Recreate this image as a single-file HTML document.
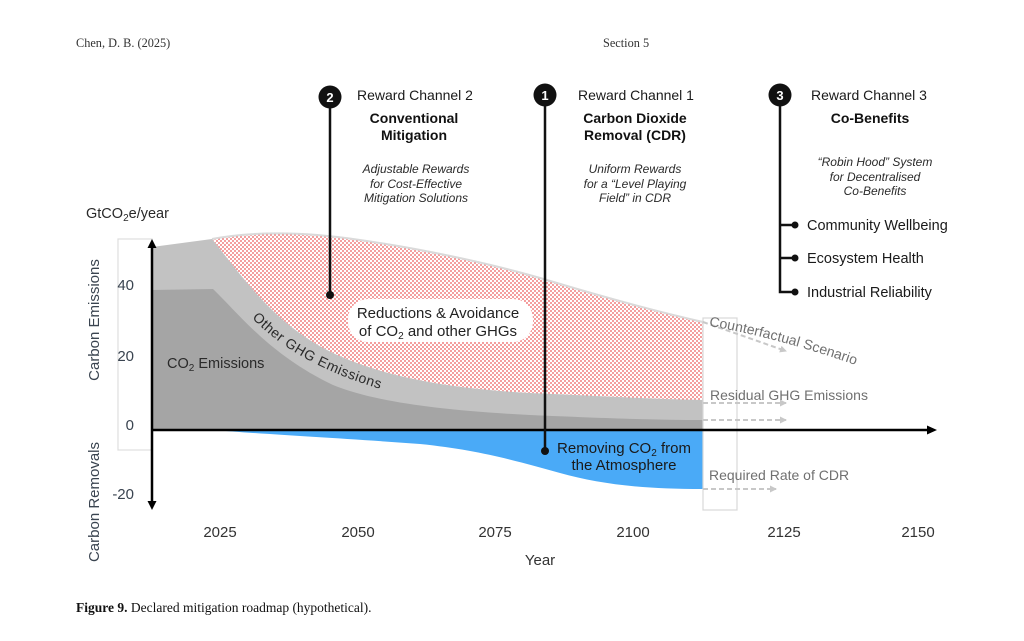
<!DOCTYPE html>
<html>
<head>
<meta charset="utf-8">
<style>
  html,body{margin:0;padding:0;background:#fff;}
  svg{display:block;}
</style>
</head>
<body>
<svg width="1024" height="641" viewBox="0 0 1024 641" xmlns="http://www.w3.org/2000/svg">
  <defs>
    <pattern id="dots" x="0" y="0" width="4" height="4" patternUnits="userSpaceOnUse">
      <rect width="4" height="4" fill="#ffffff"/>
      <circle cx="1" cy="1" r="0.9" fill="#ec5a5a"/>
      <circle cx="3" cy="3" r="0.9" fill="#ec5a5a"/>
    </pattern>
    <marker id="ga" markerWidth="8" markerHeight="8" refX="6" refY="4" orient="auto" markerUnits="userSpaceOnUse">
      <path d="M0,0.5 L7,4 L0,7.5 Z" fill="#c8c8c8"/>
    </marker>
  </defs>

  <!-- header -->
  <text x="76" y="47" font-family="Liberation Serif, serif" font-size="12.3" fill="#333">Chen, D. B. (2025)</text>
  <text x="603" y="47" font-family="Liberation Serif, serif" font-size="12.3" fill="#333">Section 5</text>

  <!-- caption -->
  <text x="76" y="612" font-family="Liberation Serif, serif" font-size="13.5" fill="#111"><tspan font-weight="bold">Figure 9.</tspan> Declared mitigation roadmap (hypothetical).</text>

  <!-- box outline left -->
  <rect x="118" y="239" width="34" height="211" fill="none" stroke="#dedede" stroke-width="1.2"/>

  <!-- red dotted region -->
  <path d="M212,239 C250,232 300,231 360,240 C430,250 500,266 547,280 C600,296 650,310 703,322 L703,400 C650,399 600,396 530,393 C440,388 380,375 333,353 C275,325 245,280 212,239 Z" fill="url(#dots)"/>
  <!-- counterfactual top line -->
  <path d="M212,239 C250,232 300,231 360,240 C430,250 500,266 547,280 C600,296 650,310 703,322" fill="none" stroke="#dadada" stroke-width="2"/>

  <!-- light gray (other GHG) -->
  <path d="M152,430 L152,247 L212,239 C245,280 275,325 333,353 C380,375 440,388 530,393 C600,396 650,399 703,400 L703,430 Z" fill="#c2c2c2"/>
  <!-- dark gray (CO2) -->
  <path d="M152,430 L152,290 L213,289 C240,315 270,355 333,385 C370,400 430,410 530,415 C600,418 650,420 703,420 L703,430 Z" fill="#a5a5a5"/>

  <!-- blue removal -->
  <path d="M213,430 C260,434 340,438 420,444 C480,450 520,462 560,473 C600,484 640,489 703,489 L703,430 Z" fill="#4aaaf7"/>

  <!-- right box outline -->
  <rect x="703" y="318" width="34" height="192" fill="none" stroke="#d8d8d8" stroke-width="1.2"/>

  <!-- dashed arrows -->
  <g stroke="#c8c8c8" stroke-width="2" stroke-dasharray="5,3" fill="none">
    <line x1="703" y1="322" x2="786" y2="351" marker-end="url(#ga)"/>
    <line x1="703" y1="403" x2="786" y2="403" marker-end="url(#ga)"/>
    <line x1="703" y1="420" x2="786" y2="420" marker-end="url(#ga)"/>
    <line x1="703" y1="489" x2="776" y2="489" marker-end="url(#ga)"/>
  </g>

  <!-- pill label -->
  <rect x="348" y="299" width="185" height="43" rx="20" ry="20" fill="#ffffff"/>
  <g font-family="Liberation Sans, sans-serif" font-size="15" fill="#222" text-anchor="middle">
    <text x="438" y="318">Reductions &amp; Avoidance</text>
    <text x="438" y="336">of CO<tspan font-size="10" dy="3">2</tspan><tspan dy="-3"> and other GHGs</tspan></text>
  </g>

  <!-- in-chart labels -->
  <text x="167" y="368" font-family="Liberation Sans, sans-serif" font-size="14.5" fill="#2a2a2a">CO<tspan font-size="10" dy="3">2</tspan><tspan dy="-3"> Emissions</tspan></text>

  <path id="ghgpath" d="M252,318 Q300,368 395,393" fill="none"/>
  <text font-family="Liberation Sans, sans-serif" font-size="14" fill="#2a2a2a"><textPath href="#ghgpath" textLength="148" lengthAdjust="spacing">Other GHG Emissions</textPath></text>

  <g font-family="Liberation Sans, sans-serif" font-size="15" fill="#1a1a1a" text-anchor="middle">
    <text x="624" y="453">Removing CO<tspan font-size="10" dy="3">2</tspan><tspan dy="-3"> from</tspan></text>
    <text x="624" y="470">the Atmosphere</text>
  </g>

  <path id="cfpath" d="M709,326 Q780,338 864,368" fill="none"/>
  <text font-family="Liberation Sans, sans-serif" font-size="14" fill="#707070"><textPath href="#cfpath" textLength="152" lengthAdjust="spacing">Counterfactual Scenario</textPath></text>
  <text x="710" y="400" font-family="Liberation Sans, sans-serif" font-size="14" fill="#707070">Residual GHG Emissions</text>
  <text x="709" y="480" font-family="Liberation Sans, sans-serif" font-size="14" fill="#707070">Required Rate of CDR</text>

  <!-- axes -->
  <g stroke="#000" stroke-width="2.5">
    <line x1="152" y1="246" x2="152" y2="503"/>
    <line x1="152" y1="430" x2="929" y2="430"/>
  </g>
  <path d="M152,239 L147.5,248 L156.5,248 Z" fill="#000"/>
  <path d="M152,510 L147.5,501 L156.5,501 Z" fill="#000"/>
  <path d="M937,430 L927,425.5 L927,434.5 Z" fill="#000"/>

  <!-- y tick labels -->
  <g font-family="Liberation Sans, sans-serif" font-size="15" fill="#3a4450" text-anchor="end">
    <text x="134" y="290">40</text>
    <text x="134" y="361">20</text>
    <text x="134" y="430">0</text>
    <text x="134" y="499">-20</text>
  </g>
  <!-- y axis titles -->
  <g font-family="Liberation Sans, sans-serif" font-size="15" fill="#3a4450" text-anchor="middle">
    <text transform="translate(99,320) rotate(-90)">Carbon Emissions</text>
    <text transform="translate(99,502) rotate(-90)">Carbon Removals</text>
  </g>
  <text x="86" y="218" font-family="Liberation Sans, sans-serif" font-size="14.5" fill="#2a2a2a">GtCO<tspan font-size="10" dy="3">2</tspan><tspan dy="-3">e/year</tspan></text>

  <!-- x tick labels -->
  <g font-family="Liberation Sans, sans-serif" font-size="15" fill="#333" text-anchor="middle">
    <text x="220" y="537">2025</text>
    <text x="358" y="537">2050</text>
    <text x="495" y="537">2075</text>
    <text x="633" y="537">2100</text>
    <text x="784" y="537">2125</text>
    <text x="918" y="537">2150</text>
    <text x="540" y="565">Year</text>
  </g>

  <!-- channel lines -->
  <g stroke="#111" stroke-width="2.5" fill="none">
    <line x1="330" y1="97" x2="330" y2="294"/>
    <line x1="545" y1="95" x2="545" y2="451"/>
    <path d="M780,95 L780,292 L795,292"/>
    <line x1="780" y1="225" x2="795" y2="225"/>
    <line x1="780" y1="258" x2="795" y2="258"/>
  </g>
  <g fill="#111">
    <circle cx="330" cy="295" r="4"/>
    <circle cx="545" cy="451" r="4"/>
    <circle cx="795" cy="225" r="3.5"/>
    <circle cx="795" cy="258" r="3.5"/>
    <circle cx="795" cy="292" r="3.5"/>
    <circle cx="330" cy="97" r="11.5"/>
    <circle cx="545" cy="95" r="11.5"/>
    <circle cx="780" cy="95" r="11.5"/>
  </g>
  <g font-family="Liberation Sans, sans-serif" font-size="13" font-weight="bold" fill="#fff" text-anchor="middle">
    <text x="330" y="102">2</text>
    <text x="545" y="100">1</text>
    <text x="780" y="100">3</text>
  </g>

  <!-- channel headings -->
  <g font-family="Liberation Sans, sans-serif" font-size="14" fill="#1a1a1a">
    <text x="357" y="100">Reward Channel 2</text>
    <text x="578" y="100">Reward Channel 1</text>
    <text x="811" y="100">Reward Channel 3</text>
  </g>
  <g font-family="Liberation Sans, sans-serif" font-size="14" font-weight="bold" fill="#111" text-anchor="middle">
    <text x="414" y="123">Conventional</text>
    <text x="414" y="140">Mitigation</text>
    <text x="635" y="123">Carbon Dioxide</text>
    <text x="635" y="140">Removal (CDR)</text>
    <text x="870" y="123">Co-Benefits</text>
  </g>
  <g font-family="Liberation Sans, sans-serif" font-size="12" font-style="italic" fill="#2a2a2a" text-anchor="middle">
    <text x="416" y="173">Adjustable Rewards</text>
    <text x="416" y="188">for Cost-Effective</text>
    <text x="416" y="202">Mitigation Solutions</text>
    <text x="635" y="173">Uniform Rewards</text>
    <text x="635" y="188">for a “Level Playing</text>
    <text x="635" y="202">Field” in CDR</text>
    <text x="875" y="166">“Robin Hood” System</text>
    <text x="875" y="181">for Decentralised</text>
    <text x="875" y="195">Co-Benefits</text>
  </g>
  <g font-family="Liberation Sans, sans-serif" font-size="14.5" fill="#1a1a1a">
    <text x="807" y="230">Community Wellbeing</text>
    <text x="807" y="263">Ecosystem Health</text>
    <text x="807" y="297">Industrial Reliability</text>
  </g>
</svg>
</body>
</html>
